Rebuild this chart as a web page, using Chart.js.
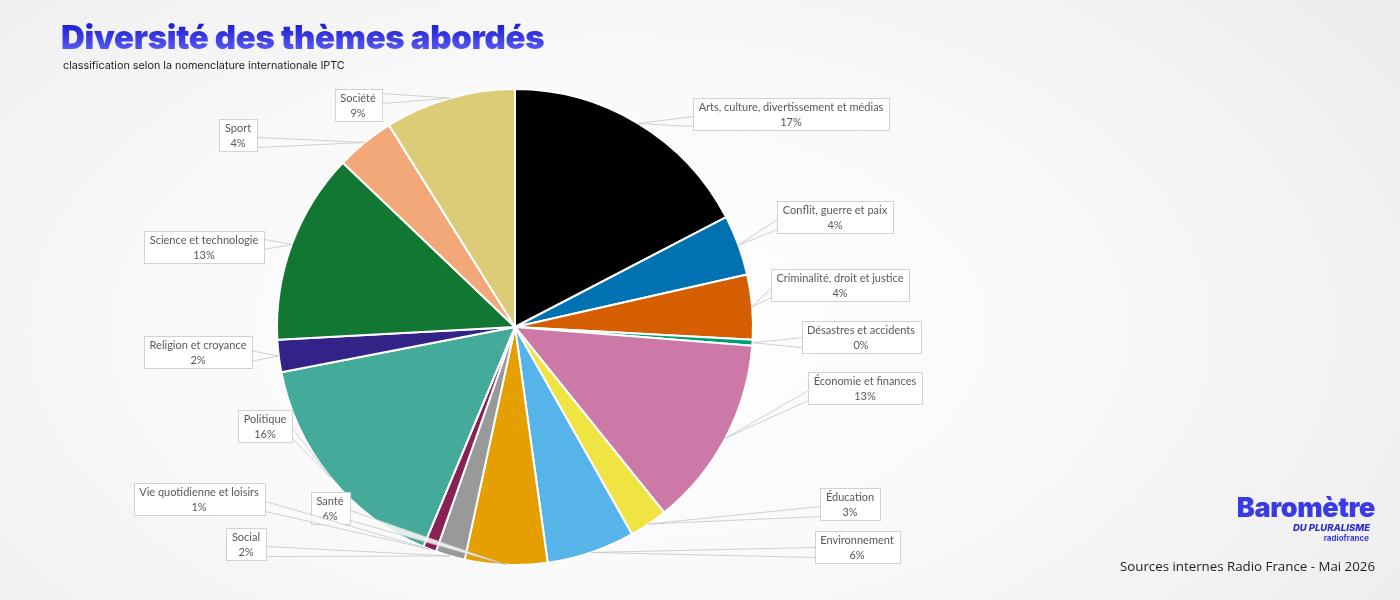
<!DOCTYPE html>
<html lang="fr">
<head>
<meta charset="utf-8">
<script src="https://cdn.jsdelivr.net/npm/chart.js@4.4.0/dist/chart.umd.min.js"></script>
<style>
  html, body { margin: 0; padding: 0; }
  body {
    width: 1400px; height: 600px; overflow: hidden; position: relative;
    background: radial-gradient(ellipse 900px 520px at 620px 330px, #ffffff 0%, #fafafa 45%, #eeeeee 100%);
    font-family: Lato, "Open Sans", sans-serif;
  }
  #wrap { position: absolute; left: 0; top: 0; width: 1400px; height: 600px; }
  h1 {
    position: absolute; left: 61px; top: 17px; margin: 0; line-height: 40px;
    font-family: Inter, sans-serif; font-weight: 900; font-size: 33px; letter-spacing: -0.3px;
    background: linear-gradient(180deg, #2424d4 25%, #5a5cf4 85%);
    -webkit-background-clip: text; background-clip: text; color: transparent;
  }
  .sub {
    position: absolute; left: 63px; top: 59px;
    font-family: Inter, sans-serif; font-size: 10.8px; color: #222;
  }
  .logo { position: absolute; left: 1200px; top: 492px; width: 175px; text-align: right; }
  .logo .big { font-family: Inter, sans-serif; font-weight: 900; font-size: 27px; color: #3a3ae6; letter-spacing: -0.4px; line-height: 31px; }
  .logo .plu { font-family: Inter, sans-serif; font-weight: 800; font-style: italic; font-size: 9.5px; color: #2a2ad0; line-height: 10px; margin-right: 5px; }
  .logo .rf { font-family: Inter, sans-serif; font-weight: 700; font-size: 8px; color: #3a3ae6; line-height: 11px; margin-right: 6px; }
  .src { position: absolute; right: 25px; top: 557px; font-family: "Open Sans", sans-serif; font-size: 13.3px; color: #222; }
</style>
</head>
<body>
<div id="wrap"><canvas id="pie-chart"></canvas></div>
<h1>Diversité des thèmes abordés</h1>
<div class="sub">classification selon la nomenclature internationale IPTC</div>
<div class="logo">
  <div class="big">Baromètre</div>
  <div class="plu">DU PLURALISME</div>
  <div class="rf">radiofrance</div>
</div>
<div class="src">Sources internes Radio France - Mai 2026</div>
<script>
// thèmes IPTC, dans l'ordre du camembert (sens horaire depuis midi)
const themes = [
  "Arts, culture, divertissement et médias",
  "Conflit, guerre et paix",
  "Criminalité, droit et justice",
  "Désastres et accidents",
  "Économie et finances",
  "Éducation",
  "Environnement",
  "Santé",
  "Social",
  "Vie quotidienne et loisirs",
  "Politique",
  "Religion et croyance",
  "Science et technologie",
  "Sport",
  "Société"
];
// parts estimées (en %)
const shares = [17.4, 4.1, 4.4, 0.4, 13.0, 2.6, 6.0, 5.6, 2.0, 0.9, 15.7, 2.2, 13.0, 4.0, 8.9];

const sliceColors = [
  "#000000", "#0072b2", "#d55e00", "#009e73", "#cc79a7",
  "#f0e442", "#56b4e9", "#e69f00", "#999999", "#882255",
  "#44aa99", "#332288", "#117733", "#f2a878", "#ddcc77"
];

// centre des étiquettes (mise en page)
const labelCenters = [
  [791, 114], [835, 217], [840, 285], [861, 337], [865, 388],
  [850, 504], [857, 547], [330, 508], [246, 544], [199, 499],
  [265, 426], [198, 352], [204, 247], [238, 135], [358, 105]
];

const calloutPlugin = {
  id: 'callouts',
  afterDatasetsDraw(chart) {
    const ctx = chart.ctx;
    const arcs = chart.getDatasetMeta(0).data;
    const total = shares.reduce((a, b) => a + b, 0);
    ctx.save();
    ctx.font = '11px Lato, "Open Sans", sans-serif';
    arcs.forEach((arc, i) => {
      const p = arc.getProps(['x', 'y', 'startAngle', 'endAngle', 'outerRadius'], true);
      const mid = (p.startAngle + p.endAngle) / 2;
      const px = p.x + Math.cos(mid) * p.outerRadius;
      const py = p.y + Math.sin(mid) * p.outerRadius;
      const line1 = themes[i];
      const line2 = Math.round(shares[i] / total * 100) + '%';
      const w = Math.ceil(Math.max(ctx.measureText(line1).width, ctx.measureText(line2).width)) + 11;
      const h = 32;
      const [cx, cy] = labelCenters[i];
      const bx = Math.round(cx - w / 2) + 0.5, by = Math.round(cy - h / 2) + 0.5;

      // pointe de la bulle
      let a, b;
      if (px < bx || px > bx + w) {
        const ex = px < bx ? bx : bx + w;
        const yc = Math.min(Math.max(py, by + 9), by + h - 9);
        a = [ex, yc - 5]; b = [ex, yc + 5];
      } else {
        const ey = py > by + h ? by + h : by;
        const xc = Math.min(Math.max(px, bx + 9), bx + w - 9);
        a = [xc - 5, ey]; b = [xc + 5, ey];
      }
      ctx.beginPath();
      ctx.moveTo(a[0], a[1]);
      ctx.lineTo(px, py);
      ctx.lineTo(b[0], b[1]);
      ctx.closePath();
      ctx.fillStyle = 'rgba(250,250,250,0.85)';
      ctx.fill();
      ctx.strokeStyle = '#c4c4c4';
      ctx.lineWidth = 0.8;
      ctx.stroke();

      ctx.fillStyle = '#ffffff';
      ctx.fillRect(bx, by, w, h);
      ctx.strokeStyle = '#d2d2d2';
      ctx.lineWidth = 1;
      ctx.strokeRect(bx, by, w, h);

      ctx.fillStyle = '#595959';
      ctx.textAlign = 'center';
      ctx.textBaseline = 'middle';
      ctx.fillText(line1, cx, cy - 7);
      ctx.fillText(line2, cx, cy + 8);
    });
    ctx.restore();
  }
};

new Chart(document.getElementById("pie-chart"), {
  type: 'pie',
  data: {
    labels: themes,
    datasets: [
      {
        data: shares,
        backgroundColor: sliceColors,
        borderColor: "#ffffff",
        borderWidth: 2,
        hoverOffset: 0,
        radius: 238
      }
    ]
  },
  options: {
    responsive: true,
    maintainAspectRatio: false,
    animation: false,
    layout: { padding: { left: 0, right: 370, top: 54, bottom: 0 } },
    plugins: {
      legend: { display: false },
      tooltip: { enabled: false },
      title: { display: false }
    }
  },
  plugins: [calloutPlugin]
});
</script>
</body>
</html>
